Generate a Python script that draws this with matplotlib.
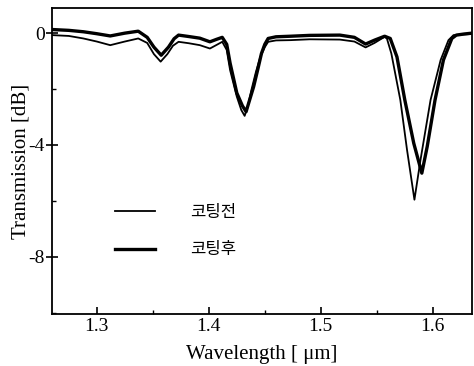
import matplotlib
matplotlib.use("Agg")
import matplotlib.pyplot as plt
from matplotlib.ticker import MultipleLocator

# Data: before coating (thin line)
wl_before = [1.260, 1.275, 1.288, 1.300, 1.312, 1.325, 1.337, 1.345, 1.351, 1.357,
             1.363, 1.368, 1.373, 1.382, 1.392, 1.401, 1.407, 1.412, 1.416, 1.419,
             1.425, 1.429, 1.432, 1.435, 1.438, 1.442, 1.446, 1.450, 1.453, 1.460,
             1.473, 1.490, 1.517, 1.530, 1.540, 1.548, 1.557, 1.559, 1.563, 1.571,
             1.577, 1.5836, 1.589, 1.598, 1.607, 1.614, 1.6185, 1.625, 1.635]
tr_before = [-0.07, -0.10, -0.19, -0.30, -0.43, -0.30, -0.19, -0.35, -0.75, -1.02,
             -0.75, -0.45, -0.31, -0.36, -0.43, -0.55, -0.42, -0.31, -0.60, -1.32,
             -2.27, -2.75, -2.96, -2.60, -2.04, -1.40, -0.85, -0.50, -0.31, -0.26,
             -0.25, -0.22, -0.23, -0.30, -0.51, -0.35, -0.13, -0.19, -0.73, -2.39,
             -4.18, -5.96, -4.54, -2.39, -0.96, -0.25, -0.07, -0.05, -0.03]

# Data: after coating (thick line)
wl_after = [1.260, 1.275, 1.288, 1.300, 1.312, 1.325, 1.337, 1.345, 1.351, 1.3575,
            1.364, 1.369, 1.373, 1.382, 1.392, 1.401, 1.407, 1.412, 1.416, 1.419,
            1.425, 1.430, 1.4333, 1.436, 1.440, 1.444, 1.447, 1.450, 1.453, 1.460,
            1.473, 1.490, 1.517, 1.530, 1.540, 1.548, 1.557, 1.562, 1.568, 1.575,
            1.583, 1.5902, 1.595, 1.602, 1.6095, 1.617, 1.621, 1.628, 1.635]
tr_after = [0.13, 0.10, 0.05, -0.02, -0.10, 0.00, 0.07, -0.15, -0.50, -0.79,
            -0.50, -0.20, -0.07, -0.12, -0.18, -0.31, -0.22, -0.15, -0.40, -1.07,
            -2.14, -2.60, -2.81, -2.45, -1.92, -1.25, -0.73, -0.40, -0.19, -0.13,
            -0.11, -0.08, -0.07, -0.15, -0.39, -0.25, -0.11, -0.19, -0.85, -2.39,
            -3.94, -5.01, -4.06, -2.39, -0.96, -0.19, -0.07, -0.03, 0.00]

labels = ["코팅전", "코팅후"]
xticks = [1.3, 1.4, 1.5, 1.6]
yticks = [0, -4, -8]

fig = plt.figure(figsize=(4.74, 3.66), dpi=100)
ax = fig.add_axes([52/474, 52/366, 420/474, 306/366])

ax.plot(wl_before, tr_before, color="black", lw=1.3, label=labels[0])
ax.plot(wl_after, tr_after, color="black", lw=2.4, label=labels[1])

ax.set_xlim(1.26, 1.635)
ax.set_ylim(-10.05, 0.9)
ax.set_xticks(xticks)
ax.set_xticklabels([f"{t:.1f}" for t in xticks])
ax.set_yticks(yticks)
ax.set_yticklabels([f"{t:d}" for t in yticks])
ax.xaxis.set_minor_locator(MultipleLocator(0.05))
ax.yaxis.set_minor_locator(MultipleLocator(2))

serif = "Liberation Serif"
for lab in ax.get_xticklabels() + ax.get_yticklabels():
    lab.set_fontfamily(serif)
    lab.set_fontsize(14)

ax.tick_params(axis="x", which="major", direction="in", length=5, width=1.2, pad=3)
ax.tick_params(axis="x", which="minor", direction="in", length=3, width=1)
ax.tick_params(axis="y", which="major", direction="inout", length=8, width=1.2, pad=1)
ax.tick_params(axis="y", which="minor", direction="in", length=3, width=1)
ax.tick_params(top=False, right=False, which="both")
for s in ax.spines.values():
    s.set_linewidth(1.3)

ax.set_xlabel("Wavelength [ μm]", fontfamily=serif, fontsize=15, labelpad=7)
ax.set_ylabel("Transmission [dB]", fontfamily=serif, fontsize=15, labelpad=-1)

leg = ax.legend(loc="center left", bbox_to_anchor=((115-52)/420, (314-231)/306),
                frameon=False, handlelength=2.4, handletextpad=2.1, labelspacing=1.25,
                borderpad=0, borderaxespad=0,
                prop={"family": ["Noto Sans CJK KR", "DejaVu Sans"], "size": 12})

fig.savefig("out.png", dpi=100)
